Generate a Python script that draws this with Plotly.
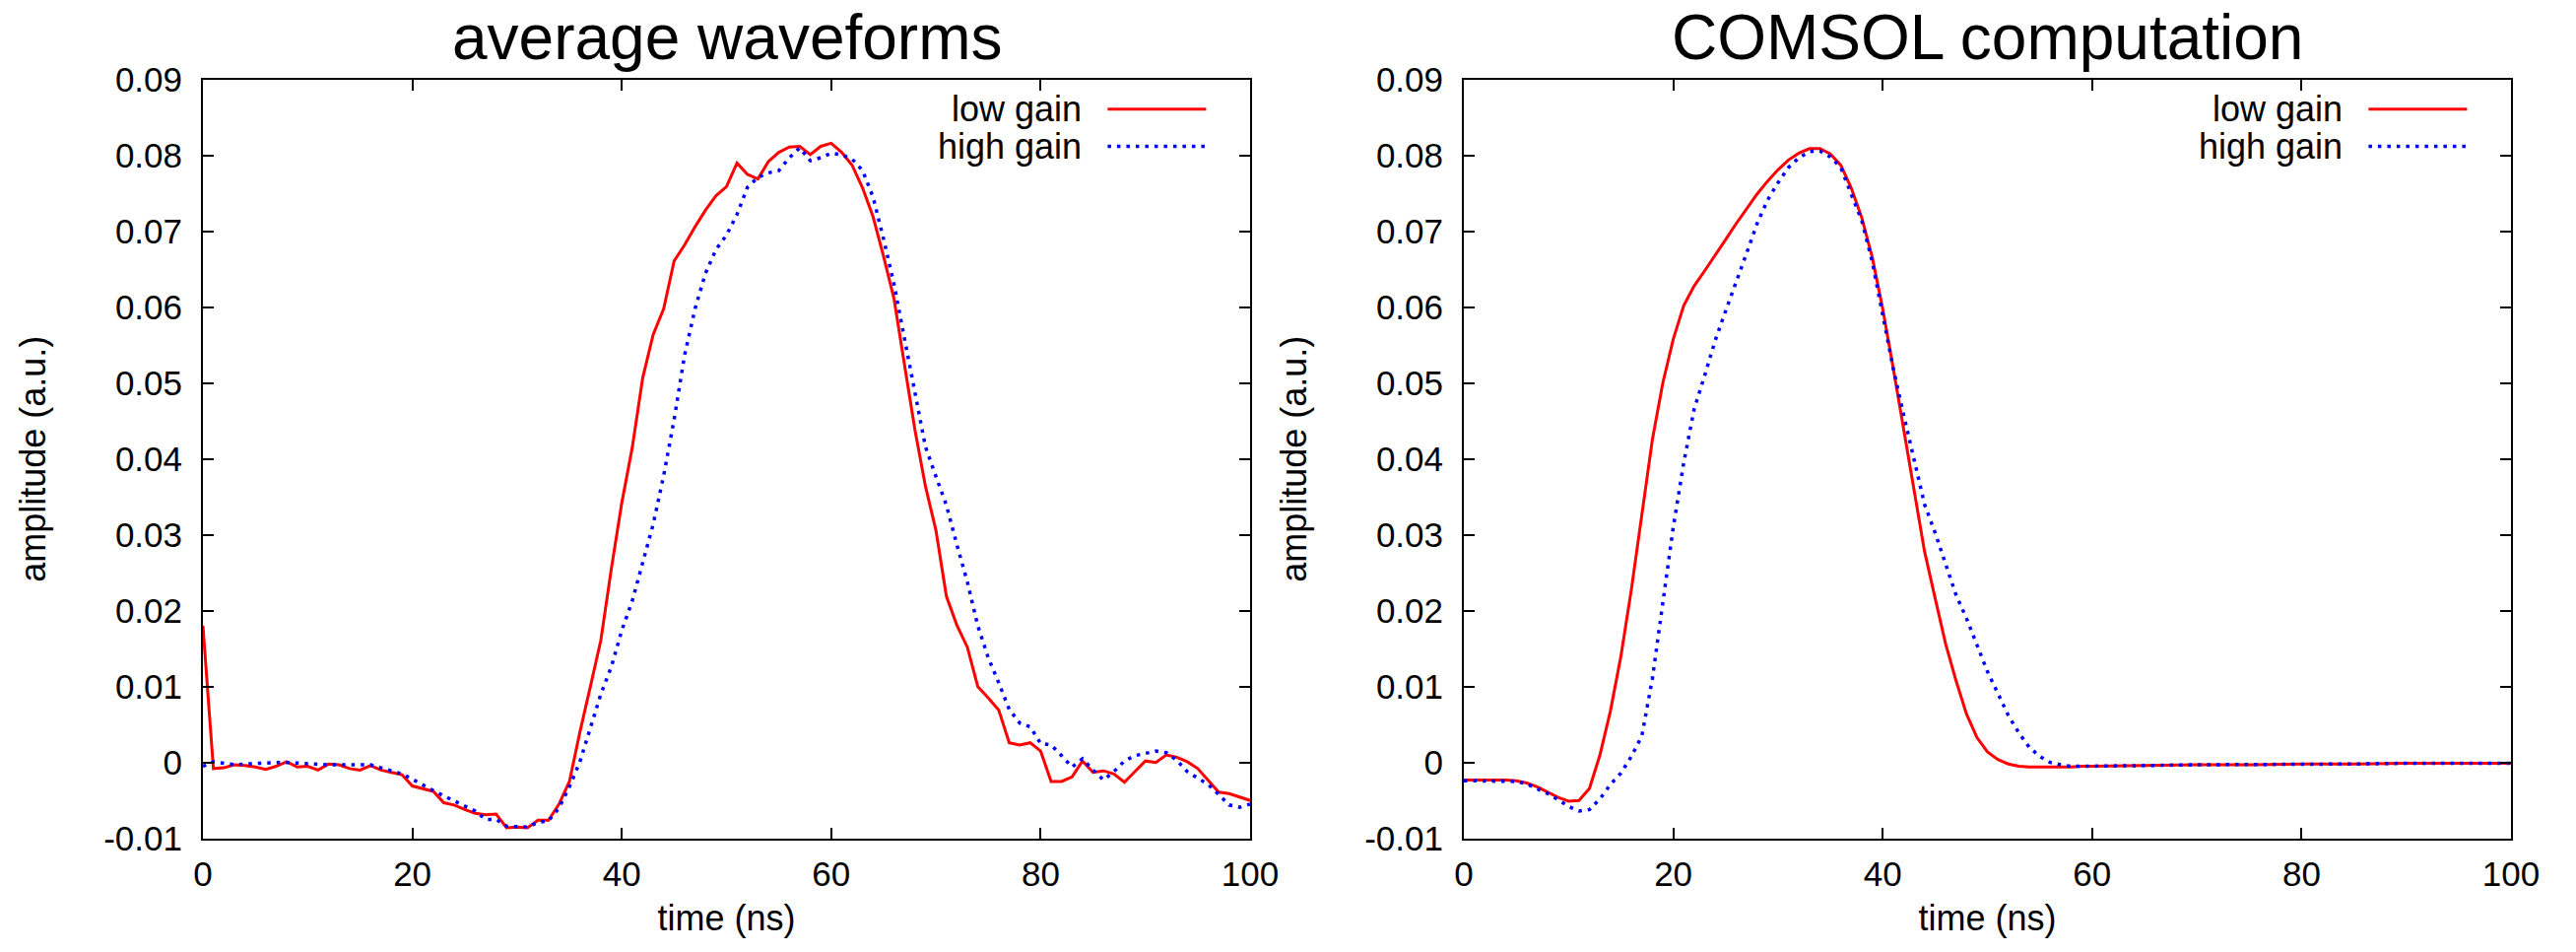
import plotly.graph_objects as go

# ---- measured waveforms (1 ns steps) ----
t_meas = list(range(0, 101))
low_gain_meas = [
    0.0180, -0.0008, -0.0007, -0.0003, -0.0004, -0.0006, -0.0009, -0.0005, 0.0001, -0.0006,
    -0.0005, -0.0010, -0.0002, -0.0003, -0.0008, -0.0010, -0.0004, -0.0010, -0.0013, -0.0016,
    -0.0031, -0.0035, -0.0038, -0.0053, -0.0056, -0.0062, -0.0067, -0.0069, -0.0068, -0.0086,
    -0.0085, -0.0086, -0.0076, -0.0076, -0.0055, -0.0025, 0.0040, 0.0100, 0.0161, 0.0255,
    0.0342, 0.0415, 0.0507, 0.0564, 0.0598, 0.0661, 0.0682, 0.0706, 0.0728, 0.0747,
    0.0759, 0.0790, 0.0775, 0.0769, 0.0792, 0.0804, 0.0811, 0.0812, 0.0801, 0.0812,
    0.0816, 0.0804, 0.0787, 0.0757, 0.0719, 0.0667, 0.0611, 0.0524, 0.0438, 0.0364,
    0.0306, 0.0219, 0.0181, 0.0152, 0.0100, 0.0085, 0.0069, 0.0026, 0.0023, 0.0026,
    0.0015, -0.0025, -0.0025, -0.0019, 0.0002, -0.0013, -0.0011, -0.0015, -0.0026, -0.0012,
    0.0002, 0.0000, 0.0010, 0.0007, 0.0001, -0.0008, -0.0024, -0.0039, -0.0041, -0.0045,
    -0.0050,
]
high_gain_meas = [
    -0.0005, 0.0001, -0.0001, -0.0003, -0.0002, -0.0001, -0.0001, 0.0000, 0.0000, -0.0001,
    -0.0002, -0.0002, -0.0003, -0.0003, -0.0003, -0.0003, -0.0003, -0.0007, -0.0011, -0.0015,
    -0.0022, -0.0030, -0.0037, -0.0044, -0.0051, -0.0058, -0.0064, -0.0075, -0.0075, -0.0084,
    -0.0085, -0.0085, -0.0079, -0.0077, -0.0060, -0.0032, 0.0001, 0.0044, 0.0090, 0.0126,
    0.0174, 0.0213, 0.0263, 0.0314, 0.0378, 0.0452, 0.0537, 0.0598, 0.0645, 0.0676,
    0.0695, 0.0722, 0.0758, 0.0771, 0.0777, 0.0780, 0.0797, 0.0810, 0.0793, 0.0797,
    0.0803, 0.0801, 0.0795, 0.0780, 0.0745, 0.0690, 0.0630, 0.0560, 0.0485, 0.0416,
    0.0377, 0.0339, 0.0287, 0.0238, 0.0180, 0.0138, 0.0105, 0.0070, 0.0052, 0.0047,
    0.0025, 0.0023, 0.0009, -0.0006, 0.0005, -0.0010, -0.0023, -0.0012, 0.0002, 0.0009,
    0.0012, 0.0015, 0.0013, 0.0003, -0.0012, -0.0021, -0.0029, -0.0042, -0.0056, -0.0059,
    -0.0055,
]

# ---- COMSOL simulation ----
t_sim = list(range(0, 61)) + [65, 70, 75, 80, 85, 90, 95, 100]
low_gain_sim = [
    -0.0023, -0.0023, -0.0023, -0.0023, -0.0023, -0.0024, -0.0027, -0.0032, -0.0039, -0.0046,
    -0.0051, -0.0050, -0.0034, 0.0010, 0.0068, 0.0140, 0.0228, 0.0324, 0.0425, 0.0500,
    0.0558, 0.0602, 0.0628, 0.0648, 0.0668, 0.0689, 0.0710, 0.0730, 0.0749, 0.0766,
    0.0781, 0.0794, 0.0803, 0.0809, 0.0809, 0.0802, 0.0787, 0.0757, 0.0718, 0.0666,
    0.0598, 0.0520, 0.0438, 0.0358, 0.0278, 0.0217, 0.0157, 0.0108, 0.0064, 0.0033,
    0.0014, 0.0004, -0.0002, -0.0005, -0.0006, -0.0006, -0.0006, -0.0006, -0.0006, -0.0005,
    -0.0005,
    -0.0004, -0.0003, -0.0003, -0.0002, -0.0002, -0.0001, -0.0001, -0.0001,
]
high_gain_sim = [
    -0.0024, -0.0024, -0.0024, -0.0024, -0.0024, -0.0025, -0.0028, -0.0034, -0.0041, -0.0049,
    -0.0058, -0.0064, -0.0062, -0.0048, -0.0029, -0.0014, 0.0008, 0.0035, 0.0110, 0.0210,
    0.0310, 0.0395, 0.0466, 0.0510, 0.0556, 0.0595, 0.0632, 0.0671, 0.0710, 0.0741,
    0.0764, 0.0784, 0.0797, 0.0805, 0.0806, 0.0798, 0.0784, 0.0750, 0.0714, 0.0660,
    0.0590, 0.0520, 0.0458, 0.0400, 0.0340, 0.0303, 0.0261, 0.0221, 0.0190, 0.0154,
    0.0120, 0.0091, 0.0062, 0.0039, 0.0020, 0.0008, 0.0000, -0.0003, -0.0005, -0.0005,
    -0.0005,
    -0.0004, -0.0003, -0.0003, -0.0002, -0.0002, -0.0001, -0.0001, -0.0001,
]

x_ticks = [0, 20, 40, 60, 80, 100]
y_ticks = [-0.01, 0, 0.01, 0.02, 0.03, 0.04, 0.05, 0.06, 0.07, 0.08, 0.09]
y_tick_text = ["-0.01", "0", "0.01", "0.02", "0.03", "0.04", "0.05", "0.06", "0.07", "0.08", "0.09"]
titles = ["average waveforms", "COMSOL computation"]
series_names = ["low gain", "high gain"]

FONT = "Liberation Sans, Arial, Helvetica, sans-serif"
W, H = 2615, 966
RED = "#ff0000"
BLUE = "#0000ff"
DOT = "3.5px,6px"

# plot areas in pixels: (left, right), top, bottom
areas = [(206, 1269), (1486, 2549)]
top_px, bot_px = 80.7, 850.7
ydom = [1 - bot_px / H, 1 - top_px / H]

fig = go.Figure()

datasets = [
    (t_meas, low_gain_meas, high_gain_meas),
    (t_sim, low_gain_sim, high_gain_sim),
]

for i, (tt, lo, hi) in enumerate(datasets):
    xa = "x" if i == 0 else "x2"
    ya = "y" if i == 0 else "y2"
    fig.add_trace(go.Scatter(x=tt, y=lo, mode="lines", name=series_names[0],
                             line=dict(color=RED, width=3), xaxis=xa, yaxis=ya,
                             showlegend=False))
    fig.add_trace(go.Scatter(x=tt, y=hi, mode="lines", name=series_names[1],
                             line=dict(color=BLUE, width=3.5, dash=DOT), xaxis=xa, yaxis=ya,
                             showlegend=False))

axis_common = dict(
    showline=True, linecolor="black", linewidth=2, mirror="allticks",
    ticks="inside", ticklen=11, tickwidth=2, tickcolor="black",
    showgrid=False, zeroline=False, automargin=False,
    tickfont=dict(family=FONT, size=35, color="black"),
)

layout = dict(
    width=W, height=H,
    margin=dict(l=0, r=0, t=0, b=0),
    paper_bgcolor="white", plot_bgcolor="white",
    font=dict(family=FONT, color="black"),
    showlegend=False,
)

for i, (l, r) in enumerate(areas):
    suffix = "" if i == 0 else "2"
    xdom = [l / W, r / W]
    layout["xaxis" + suffix] = dict(
        axis_common, domain=xdom, range=[0, 100], tickvals=x_ticks,
        ticktext=[str(v) for v in x_ticks], ticklabelstandoff=4,
        anchor="y" + suffix,
        title=dict(text="time (ns)", font=dict(family=FONT, size=36), standoff=14),
    )
    layout["yaxis" + suffix] = dict(
        axis_common, domain=ydom, range=[-0.01, 0.09], tickvals=y_ticks,
        ticktext=y_tick_text, ticklabelstandoff=12,
        anchor="x" + suffix,
        title=dict(text="amplitude (a.u.)", font=dict(family=FONT, size=36), standoff=48),
    )

fig.update_layout(**layout)

# titles and in-plot keys
for i, (l, r) in enumerate(areas):
    suffix = "" if i == 0 else "2"
    fig.add_annotation(text=titles[i], xref="paper", yref="paper",
                       x=(l + r) / 2 / W, y=1 - 38 / H, xanchor="center", yanchor="middle",
                       showarrow=False, font=dict(family=FONT, size=64, color="black"))
    for k, (name, color, dash, lw) in enumerate([
        (series_names[0], RED, "solid", 3),
        (series_names[1], BLUE, DOT, 3.5),
    ]):
        yk = [0.961, 0.912][k]
        fig.add_annotation(text=name, xref="x" + suffix + " domain", yref="y" + suffix + " domain",
                           x=0.841, y=yk, xanchor="right", yanchor="middle", showarrow=False,
                           font=dict(family=FONT, size=36, color="black"))
        fig.add_shape(type="line", xref="x" + suffix + " domain", yref="y" + suffix + " domain",
                      x0=0.864, x1=0.958, y0=yk, y1=yk,
                      line=dict(color=color, width=lw, dash=dash))

fig.write_html("out.html")
